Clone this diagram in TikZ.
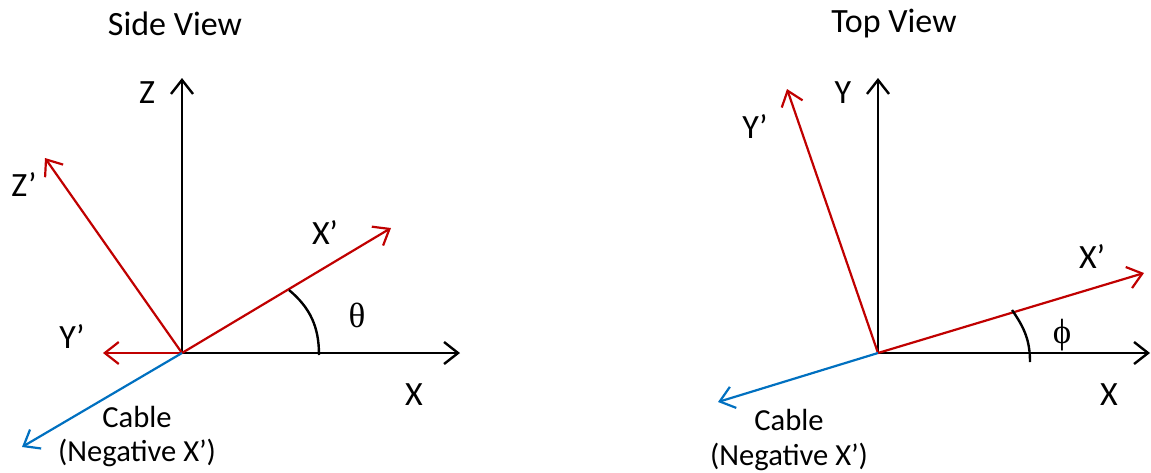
\documentclass[tikz,border=0pt]{standalone}
\usepackage{fontspec}
\setmainfont{Carlito}
\newfontfamily\greekfont{Liberation Serif}
\usetikzlibrary{arrows.meta}

\definecolor{axisred}{RGB}{192,0,0}
\definecolor{cableblue}{RGB}{0,112,192}

\begin{document}
\begin{tikzpicture}[
        x=0.5pt, y=-0.5pt,
        every node/.style={font=\fontsize{17}{20}\selectfont, inner sep=0pt},
        axis/.style={draw, line width=1.2pt, -{Straight Barb[length=7pt,width=11pt]}},
        rotaxis/.style={axis, draw=axisred, line width=1.1pt},
        cableaxis/.style={axis, draw=cableblue, line width=1.1pt},
        anglearc/.style={draw, line width=1.2pt},
        cablelabel/.style={font=\fontsize{15.3}{18}\selectfont},
        greek/.style={font=\greekfont\fontsize{17.5}{20}\selectfont}
    ]
    \useasboundingbox (0,0) rectangle (1151,472);

    % side view
    \coordinate (so) at (182,353);
    \coordinate (sz) at (182,78);
    \coordinate (sx) at (460,353);
    \coordinate (sxr) at (391,228);
    \coordinate (szr) at (45,158);
    \coordinate (syr) at (103,353);
    \coordinate (scab) at (22,447);
    \coordinate (sarca) at (319,355);
    \coordinate (sarcb) at (289,290);

    \draw[axis] (so) -- (sz);
    \draw[axis] (so) -- (sx);
    \draw[rotaxis] (so) -- (sxr);
    \draw[rotaxis] (so) -- (szr);
    \draw[rotaxis] (so) -- (syr);
    \draw[cableaxis] (so) -- (scab);
    \draw[anglearc] (sarca) to[out=90, in=-40] (sarcb);

    \node (stitle) at (175,24) {Side View};
    \node (szlbl) at (147,93) {Z};
    \node (szrlbl) at (24,185) {Z’};
    \node (sxrlbl) at (325,233) {X’};
    \node[greek] (stheta) at (357,315) {θ};
    \node (syrlbl) at (72,337) {Y’};
    \node (sxlbl) at (414,395) {X};
    \node[cablelabel] (scable) at (137,417) {Cable};
    \node[cablelabel] (sneg) at (137,453) {(Negative X’)};

    % top view
    \coordinate (to) at (878,353);
    \coordinate (ty) at (878,78);
    \coordinate (tx) at (1150,353);
    \coordinate (txr) at (1144,273);
    \coordinate (tyr) at (787,89);
    \coordinate (tcab) at (718,402);
    \coordinate (tarca) at (1030,362);
    \coordinate (tarcb) at (1012,310);

    \draw[axis] (to) -- (ty);
    \draw[axis] (to) -- (tx);
    \draw[rotaxis] (to) -- (txr);
    \draw[rotaxis] (to) -- (tyr);
    \draw[cableaxis] (to) -- (tcab);
    \draw[anglearc] (tarca) to[out=90, in=-55] (tarcb);

    \node (ttitle) at (894,24) {Top View};
    \node (tylbl) at (843,93) {Y};
    \node (tyrlbl) at (755,127) {Y’};
    \node (txrlbl) at (1092,257) {X’};
    \node[greek] (tphi) at (1062,335) {ϕ};
    \node (txlbl) at (1109,395) {X};
    \node[cablelabel] (tcable) at (789,420) {Cable};
    \node[cablelabel] (tneg) at (789,457) {(Negative X’)};
\end{tikzpicture}
\end{document}
